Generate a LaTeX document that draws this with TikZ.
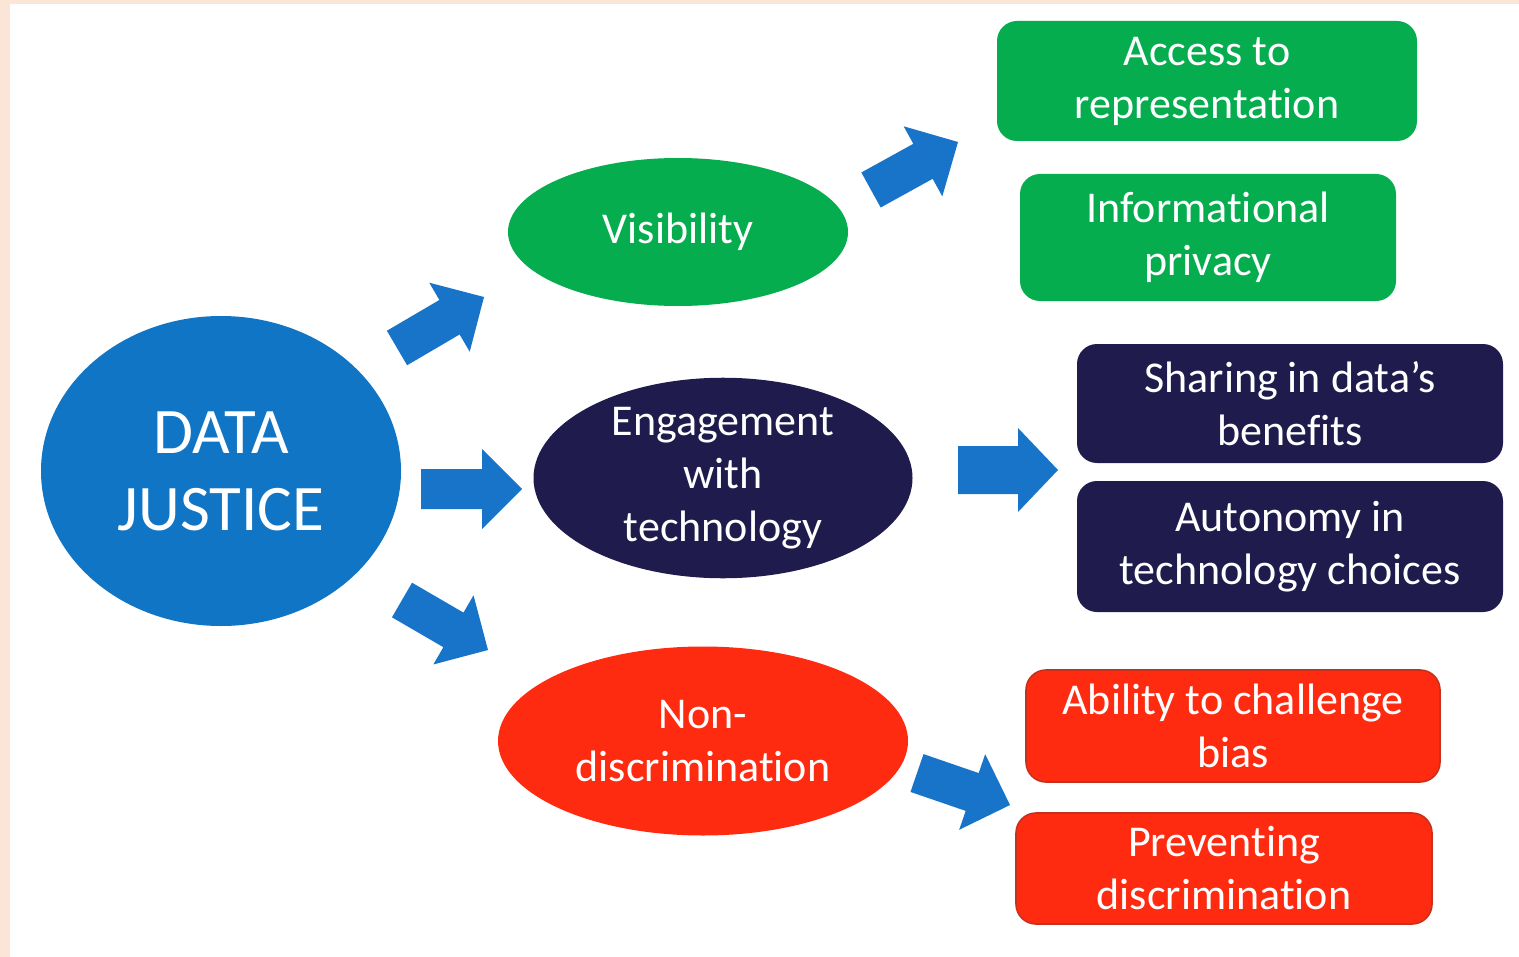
\documentclass[tikz,border=0pt]{standalone}
\usepackage{fontspec}
\setmainfont[Ligatures=NoCommon]{Carlito}
\usetikzlibrary{shapes.geometric,calc}
\definecolor{peach}{HTML}{FBE5D6}
\definecolor{djblue}{HTML}{1075C4}
\definecolor{arrblue}{HTML}{1874C8}
\definecolor{vgreen}{HTML}{06AD4F}
\definecolor{navy}{HTML}{1F1B4D}
\definecolor{vred}{HTML}{FF2B10}
\definecolor{redborder}{HTML}{C8301E}
\tikzset{
  oval/.style={ellipse, inner sep=0pt, align=center, text=white,
    font=\fontsize{22pt}{26.5pt}\selectfont},
  box/.style={rectangle, rounded corners=10pt, inner sep=0pt, align=center,
    text=white, font=\fontsize{22pt}{26.5pt}\selectfont},
}
\newcommand\blockarr[4]{%
  \coordinate (Hb) at ($(#2)!20pt!(#1)$);
  \fill[arrblue] ($(#1)!#3!90:(#2)$) -- ($(Hb)!#3!90:(#2)$) -- ($(Hb)!#4!90:(#2)$)
    -- (#2) -- ($(Hb)!#4!-90:(#2)$) -- ($(Hb)!#3!-90:(#2)$) -- ($(#1)!#3!-90:(#2)$) -- cycle;
}
\begin{document}
\begin{tikzpicture}[x=0.5pt,y=-0.5pt]
\fill[peach] (0,0) rectangle (1519,957);
\fill[white] (10,4) rectangle (1519,957);
\useasboundingbox (0,0) rectangle (1519,957);

% main ellipses
\node[oval, fill=djblue, minimum width=180pt, minimum height=155pt,
  font=\fontsize{32.5pt}{38.5pt}\selectfont] (dj) at (221,471) {DATA\\JUSTICE};
\node[oval, fill=vgreen, minimum width=170pt, minimum height=74pt] (vis) at (678,232) {Visibility};
\node[oval, fill=navy, minimum width=189.5pt, minimum height=99pt] (eng) at (723,478) {Engagement\\with\\technology};
\node[oval, fill=vred, minimum width=205pt, minimum height=94.5pt] (non) at (703,741) {Non-\\discrimination};

% boxes
\node[box, fill=vgreen, minimum width=210pt, minimum height=60pt] (acc) at (1207,81) {Access to\\representation};
\node[box, fill=vgreen, minimum width=188pt, minimum height=63.5pt] (inf) at (1208,237.5) {Informational\\privacy};
\node[box, fill=navy, minimum width=213pt, minimum height=59.5pt] (sha) at (1290,403.5) {Sharing in data’s\\benefits};
\node[box, fill=navy, minimum width=213pt, minimum height=65.5pt] (aut) at (1290,546.5) {Autonomy in\\technology choices};
\node[box, fill=vred, draw=redborder, line width=0.8pt, minimum width=207pt, minimum height=56pt] (abl) at (1233,726) {Ability to challenge\\bias};
\node[box, fill=vred, draw=redborder, line width=0.8pt, minimum width=208pt, minimum height=55.5pt] (pre) at (1224,868.5) {Preventing\\discrimination};

% arrow anchor coordinates
\coordinate (a1s) at (397,348); \coordinate (a1e) at (484,297);
\coordinate (a2s) at (421,489); \coordinate (a2e) at (522,489);
\coordinate (a3s) at (402,600); \coordinate (a3e) at (488,650);
\coordinate (a4s) at (871,190); \coordinate (a4e) at (958,142);
\coordinate (a5s) at (958,470); \coordinate (a5e) at (1058,470);
\coordinate (a6s) at (917,773); \coordinate (a6e) at (1010,805);

\blockarr{a1s}{a1e}{10pt}{20pt}
\blockarr{a2s}{a2e}{10pt}{20pt}
\blockarr{a3s}{a3e}{10pt}{20pt}
\blockarr{a4s}{a4e}{10pt}{20pt}
\blockarr{a5s}{a5e}{12pt}{21pt}
\blockarr{a6s}{a6e}{10pt}{20pt}
\end{tikzpicture}
\end{document}
